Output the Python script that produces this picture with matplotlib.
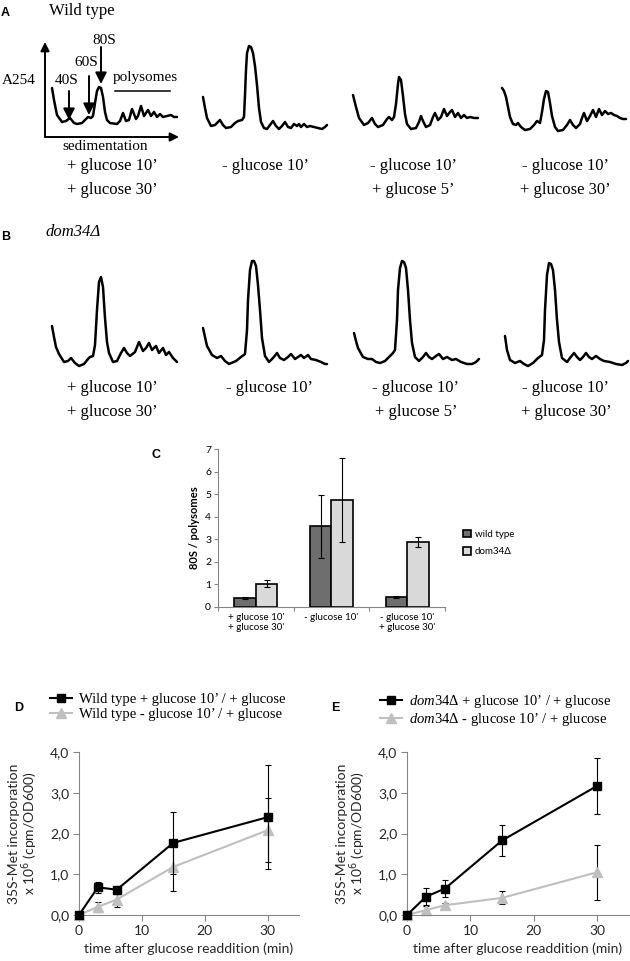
import matplotlib
matplotlib.use('Agg')
import matplotlib.pyplot as plt
from matplotlib.patches import Patch
from matplotlib.lines import Line2D
from matplotlib.font_manager import FontProperties
from matplotlib.ticker import FuncFormatter, FixedLocator
import numpy as np

SERIF = 'Liberation Serif'
SANS = 'Lato'
BOLD = 'Liberation Sans'

plt.rcParams['mathtext.fontset'] = 'custom'
plt.rcParams['mathtext.rm'] = SERIF
plt.rcParams['mathtext.it'] = SERIF + ':italic'

# ---- polysome profiles (A254 traces, arbitrary units) ----
A1_DX = [0, 2, 5, 10, 14, 18, 22, 25, 30, 34, 36, 39, 41, 43, 45, 47, 49, 51, 53, 55, 58, 65, 68, 71, 74, 77,
         80, 84, 86, 89, 92, 96, 99, 102, 105, 108, 111, 115, 119, 122, 125]
A1_H = [38, 26, 11, 4, 5, 8, 3, 2, 3, 7, 9, 8, 10, 23, 35, 39, 38, 29, 14, 6, 3, 2, 5, 13, 5, 6,
        17, 7, 10, 20, 10, 16, 10, 14, 9, 12, 9, 10, 11, 9, 9]
A2_DX = [0, 2, 4, 8, 12, 17, 20, 23, 28, 32, 35, 39, 41, 42, 43, 44, 46, 48, 50, 52, 54, 56, 58, 61, 64, 67,
         70, 73, 76, 79, 82, 85, 88, 91, 94, 96, 98, 101, 104, 107, 111, 115, 119, 122, 124]
A2_H = [33, 22, 12, 4, 5, 10, 5, 2, 3, 7, 9, 10, 13, 35, 60, 77, 84, 83, 77, 64, 45, 22, 8, 2, 1, 5,
        9, 4, 1, 4, 8, 3, 2, 6, 4, 6, 3, 6, 3, 4, 3, 2, 1, 3, 5]
A3_DX = [0, 3, 6, 11, 15, 19, 22, 25, 30, 34, 36, 39, 41, 43, 45, 46, 48, 50, 52, 54, 58, 63, 66, 68, 70, 73,
         77, 80, 82, 85, 88, 91, 94, 97, 99, 102, 105, 108, 111, 114, 117, 121, 125]
A3_H = [35, 23, 12, 5, 7, 12, 6, 3, 5, 11, 13, 10, 13, 26, 46, 53, 50, 34, 16, 6, 1, 2, 8, 14, 9, 3,
        5, 13, 17, 10, 13, 21, 14, 18, 20, 13, 17, 12, 15, 12, 13, 12, 12]
A4_DX = [0, 2, 4, 6, 8, 11, 14, 16, 19, 23, 28, 32, 35, 38, 40, 42, 44, 46, 48, 50, 53, 56, 61, 65, 68, 71,
         74, 78, 80, 82, 85, 88, 91, 94, 97, 100, 103, 106, 109, 112, 115, 118, 121, 124]
A4_H = [44, 41, 35, 25, 15, 8, 7, 9, 5, 2, 3, 7, 11, 9, 20, 33, 41, 40, 29, 16, 5, 1, 2, 7, 12, 7,
        4, 8, 14, 19, 11, 16, 22, 15, 23, 17, 21, 18, 19, 17, 16, 14, 13, 13]

B1_DX = [0, 2, 4, 7, 12, 16, 19, 23, 27, 32, 36, 38, 41, 43, 45, 47, 49, 51, 53, 55, 57, 61, 65, 69, 72, 75,
         78, 83, 87, 91, 94, 97, 100, 104, 107, 111, 114, 117, 121, 125]
B1_H = [40, 29, 19, 12, 4, 5, 8, 3, 0, 2, 7, 9, 10, 21, 56, 84, 89, 79, 48, 24, 13, 4, 5, 13, 18, 13,
        10, 14, 24, 15, 18, 23, 16, 20, 13, 18, 11, 14, 8, 4]
B2_DX = [0, 2, 4, 9, 14, 18, 22, 26, 33, 38, 42, 44, 45, 47, 49, 51, 53, 55, 57, 59, 62, 66, 70, 74, 77, 81,
         85, 88, 92, 95, 98, 101, 105, 108, 113, 118, 122, 124]
B2_H = [37, 28, 19, 10, 7, 9, 4, 1, 4, 8, 11, 35, 65, 95, 104, 104, 99, 80, 55, 27, 9, 3, 7, 12, 7, 5,
        8, 11, 6, 8, 10, 7, 10, 6, 5, 3, 1, 1]
B3_DX = [0, 2, 4, 9, 14, 18, 22, 26, 31, 35, 39, 41, 43, 44, 46, 48, 50, 52, 54, 56, 58, 61, 65, 69, 72, 75,
         78, 82, 85, 89, 93, 98, 102, 107, 113, 118, 122, 125]
B3_H = [32, 24, 17, 8, 6, 6, 3, 2, 4, 8, 12, 15, 45, 75, 97, 104, 103, 97, 75, 45, 22, 8, 4, 8, 12, 8,
        6, 9, 11, 6, 8, 5, 6, 3, 1, 1, 3, 6]
B4_DX = [0, 2, 5, 10, 15, 19, 23, 28, 33, 37, 39, 40, 42, 44, 46, 48, 50, 52, 54, 57, 62, 65, 69, 72, 75, 78,
         81, 84, 87, 91, 95, 99, 105, 111, 117, 121, 123]
B4_H = [30, 16, 6, 3, 5, 2, 0, 3, 8, 11, 26, 56, 91, 103, 102, 96, 76, 46, 24, 8, 4, 8, 13, 9, 6, 9,
        13, 9, 7, 10, 7, 5, 4, 2, 1, 3, 5]

A_TRACES = [(A1_DX, A1_H), (A2_DX, A2_H), (A3_DX, A3_H), (A4_DX, A4_H)]
B_TRACES = [(B1_DX, B1_H), (B2_DX, B2_H), (B3_DX, B3_H), (B4_DX, B4_H)]
A_LABELS = ['+ glucose 10’\n+ glucose 30’', '- glucose 10’', '- glucose 10’\n+ glucose 5’',
            '- glucose 10’\n+ glucose 30’']
B_LABELS = A_LABELS

# ---- panel C ----
C_GROUPS = ["+ glucose 10'\n+ glucose 30'", "- glucose 10'", "- glucose 10'\n+ glucose 30'"]
C_WT = [0.40, 3.57, 0.45]
C_WT_ERR = [0.03, 1.38, 0.05]
C_DOM = [1.03, 4.75, 2.87]
C_DOM_ERR = [0.16, 1.87, 0.23]
C_TICKS = [0, 1, 2, 3, 4, 5, 6, 7]

# ---- panels D / E ----
TIME = [0, 3, 6, 15, 30]
D_FED = [0.0, 0.68, 0.62, 1.77, 2.40]
D_FED_ERR = [0.0, 0.13, 0.10, 0.76, 1.27]
D_STARVED = [0.0, 0.20, 0.38, 1.18, 2.08]
D_STARVED_ERR = [0.0, 0.12, 0.18, 0.60, 0.78]
E_FED = [0.0, 0.45, 0.65, 1.83, 3.17]
E_FED_ERR = [0.0, 0.21, 0.20, 0.37, 0.69]
E_STARVED = [0.0, 0.12, 0.24, 0.42, 1.05]
E_STARVED_ERR = [0.0, 0.10, 0.05, 0.16, 0.67]
Y_TICKS = [0, 1, 2, 3, 4]
X_TICKS = [0, 10, 20, 30]

GRAY_LINE = '#bfbfbf'
AXIS_GRAY = '#868686'

fig = plt.figure(figsize=(6.3, 9.61), dpi=100)

# overlay in pixel units for the profile panels and panel letters
ax0 = fig.add_axes([0, 0, 1, 1])
ax0.set_xlim(0, 630)
ax0.set_ylim(961, 0)
ax0.axis('off')


def arrow(x1, y1, x2, y2, ms=16, lw=1.4):
    ax0.annotate('', xy=(x2, y2), xytext=(x1, y1),
                 arrowprops=dict(arrowstyle='-|>', color='black', lw=lw, mutation_scale=ms,
                                 shrinkA=0, shrinkB=0))


def draw_traces(traces, x0s, bases):
    for (dx, h), x0, base in zip(traces, x0s, bases):
        ax0.plot(x0 + np.array(dx), base - np.array(h), color='black', lw=1.8,
                 solid_joinstyle='round', solid_capstyle='round')


def draw_labels(labels, centers, rows):
    for lab, cx in zip(labels, centers):
        for line, y in zip(lab.split('\n'), rows):
            ax0.text(cx, y, line, ha='center', va='center', family=SERIF, fontsize=12)


# panel A
ax0.text(1, 13, 'A', family=BOLD, weight='bold', fontsize=9, va='center')
ax0.text(49, 11, 'Wild type', family=SERIF, fontsize=12, va='center')
draw_traces(A_TRACES, [52, 203, 353, 502], [126, 130, 130, 132])
arrow(45, 137, 45, 42, ms=13)
arrow(45, 137, 179, 137, ms=13)
ax0.text(2, 80, 'A254', family=SERIF, fontsize=11, va='center')
ax0.text(105, 147, 'sedimentation', family=SERIF, fontsize=11, ha='center', va='center')
ax0.text(67, 81, '40S', family=SERIF, fontsize=11, ha='center', va='center')
ax0.text(86, 63, '60S', family=SERIF, fontsize=11, ha='center', va='center')
ax0.text(104, 40, '80S', family=SERIF, fontsize=11, ha='center', va='center')
ax0.text(145, 77, 'polysomes', family=SERIF, fontsize=11, ha='center', va='center')
ax0.plot([115, 170], [91, 91], color='black', lw=1.1)
arrow(69, 91, 69, 120, ms=17)
arrow(89, 76, 89, 115, ms=17)
arrow(101, 47, 101, 84, ms=17)
draw_labels(A_LABELS, [112, 266, 413, 565], [166, 190])

# panel B
ax0.text(1, 237, 'B', family=BOLD, weight='bold', fontsize=9, va='center')
ax0.text(46, 232, 'dom34Δ', family=SERIF, style='italic', fontsize=12, va='center')
draw_traces(B_TRACES, [52, 203, 354, 505], [366, 365, 365, 366])
draw_labels(B_LABELS, [112, 270, 416, 566], [388, 412])

# panel C
ax0.text(152, 455, 'C', family=BOLD, weight='bold', fontsize=9, va='center')
axc = fig.add_axes([218 / 630, 1 - 607 / 961, 227 / 630, 158 / 961])
xc = np.arange(len(C_GROUPS))
bw = 0.285
axc.bar(xc - bw / 2, C_WT, bw, color='#6e6e6e', edgecolor='black', lw=1.2, label='wild type',
        yerr=C_WT_ERR, error_kw=dict(ecolor='black', elinewidth=0.8, capsize=2, capthick=0.8))
axc.bar(xc + bw / 2, C_DOM, bw, color='#d9d9d9', edgecolor='black', lw=1.2, label='dom34Δ',
        yerr=C_DOM_ERR, error_kw=dict(ecolor='black', elinewidth=0.8, capsize=2, capthick=0.8))
axc.set_xlim(-0.5, 2.5)
axc.set_ylim(0, 7)
axc.set_yticks(C_TICKS)
axc.xaxis.set_major_locator(FixedLocator([-0.5, 0.5, 1.5, 2.5]))
axc.xaxis.set_minor_locator(FixedLocator(list(xc)))
axc.set_xticklabels([])
axc.set_xticklabels(C_GROUPS, minor=True, family=SANS, fontsize=7)
axc.tick_params(axis='x', which='major', direction='out', length=3, color=AXIS_GRAY)
axc.tick_params(axis='x', which='minor', length=0, pad=4)
axc.tick_params(axis='y', direction='out', length=3, color=AXIS_GRAY, labelsize=7.5, pad=2)
for t in axc.get_yticklabels():
    t.set_family(SANS)
for s in ['top', 'right']:
    axc.spines[s].set_visible(False)
for s in ['left', 'bottom']:
    axc.spines[s].set_color(AXIS_GRAY)
    axc.spines[s].set_linewidth(0.8)
axc.set_ylabel('80S / polysomes', family=SANS, weight='bold', fontsize=8, labelpad=4)
axc.legend(handles=[Patch(facecolor='#6e6e6e', edgecolor='black', lw=1.2, label='wild type'),
                    Patch(facecolor='#d9d9d9', edgecolor='black', lw=1.2, label='dom34Δ')],
           loc='center left', bbox_to_anchor=(458 / 630, 1 - 543 / 961), bbox_transform=fig.transFigure,
           frameon=False, handlelength=0.8, handleheight=0.8, handletextpad=0.4, labelspacing=0.9,
           borderpad=0, prop=FontProperties(family=[SANS, 'DejaVu Sans'], size=7))

# panels D and E
comma = FuncFormatter(lambda v, p: f'{v:.1f}'.replace('.', ','))


def growth_panel(rect, fed, fed_err, starved, starved_err, labels, legend_x):
    ax = fig.add_axes(rect)
    ax.errorbar(TIME, fed, yerr=fed_err, color='black', lw=1.5, marker='s', ms=6,
                ecolor='black', elinewidth=0.8, capsize=2.5, capthick=0.8, clip_on=False, zorder=3)
    ax.errorbar(TIME, starved, yerr=starved_err, color=GRAY_LINE, lw=1.5, marker='^', ms=7,
                ecolor='black', elinewidth=0.8, capsize=2.5, capthick=0.8, clip_on=False, zorder=2)
    ax.set_xlim(0, 35)
    ax.set_ylim(0, 4)
    ax.set_xticks(X_TICKS)
    ax.set_yticks(Y_TICKS)
    ax.yaxis.set_major_formatter(comma)
    ax.tick_params(direction='out', length=4, color=AXIS_GRAY, labelsize=10, pad=3, labelcolor='#262626')
    for t in ax.get_xticklabels() + ax.get_yticklabels():
        t.set_family(SANS)
    for s in ['top', 'right']:
        ax.spines[s].set_visible(False)
    for s in ['left', 'bottom']:
        ax.spines[s].set_color(AXIS_GRAY)
        ax.spines[s].set_linewidth(0.8)
    ax.set_xlabel('time after glucose readdition (min)', family=SANS, fontsize=10, labelpad=4,
                  color='#262626')
    ax.set_ylabel('35S-Met incorporation\nx 10$^6$ (cpm/OD600)', family=SANS, fontsize=10,
                  linespacing=1.0, labelpad=7, math_fontfamily='dejavusans', color='#262626')
    handles = [Line2D([], [], color='black', lw=1.5, marker='s', ms=6, label=labels[0]),
               Line2D([], [], color=GRAY_LINE, lw=1.5, marker='^', ms=7, label=labels[1])]
    ax.legend(handles=handles, loc='upper left', bbox_to_anchor=(legend_x, 1 - 693 / 961),
              bbox_transform=fig.transFigure, frameon=False, handlelength=1.5, handletextpad=0.5,
              labelspacing=0.1, borderpad=0, borderaxespad=0, prop=FontProperties(family=SERIF, size=10.5))
    return ax


ax0.text(14, 708, 'D', family=BOLD, weight='bold', fontsize=9, va='center')
growth_panel([79 / 630, 1 - 915 / 961, 220 / 630, 163 / 961], D_FED, D_FED_ERR, D_STARVED, D_STARVED_ERR,
             ['Wild type + glucose 10’ / + glucose', 'Wild type - glucose 10’ / + glucose'], 50 / 630)

ax0.text(331, 708, 'E', family=BOLD, weight='bold', fontsize=9, va='center')
growth_panel([407 / 630, 1 - 915 / 961, 222 / 630, 163 / 961], E_FED, E_FED_ERR, E_STARVED, E_STARVED_ERR,
             [r'$\mathit{dom34Δ}$ + glucose 10’ / + glucose', r'$\mathit{dom34Δ}$ - glucose 10’ / + glucose'],
             380 / 630)

fig.savefig('out.png', dpi=100)
